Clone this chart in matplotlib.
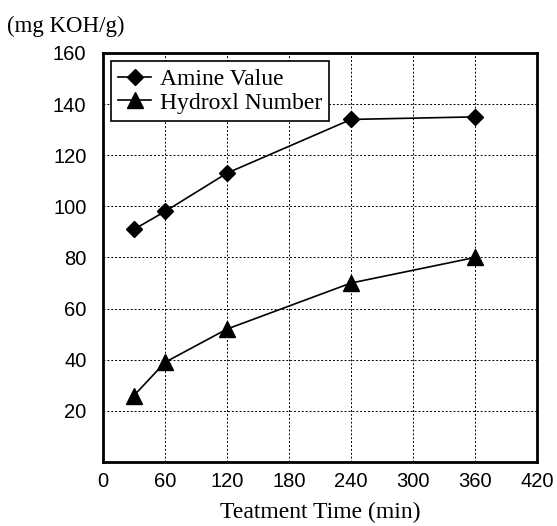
import matplotlib
matplotlib.use("Agg")
import matplotlib.pyplot as plt

time_min = [30, 60, 120, 240, 360]
amine_value = [91, 98, 113, 134, 135]
hydroxyl_number = [26, 39, 52, 70, 80]
x_ticks = [0, 60, 120, 180, 240, 300, 360, 420]
y_ticks = [20, 40, 60, 80, 100, 120, 140, 160]

fig = plt.figure(figsize=(5.57, 5.26), dpi=100)
ax = fig.add_axes([0.185, 0.1217, 0.779, 0.7776])

ax.plot(time_min, amine_value, color="black", lw=1.2, marker="D", markersize=8, label="Amine Value")
ax.plot(time_min, hydroxyl_number, color="black", lw=1.2, marker="^", markersize=11, label="Hydroxl Number")

ax.set_xlim(0, 420)
ax.set_ylim(0, 160)
ax.set_xticks(x_ticks)
ax.set_yticks(y_ticks)
ax.tick_params(axis="x", length=0, pad=7, labelsize=14.5)
ax.tick_params(axis="y", length=0, pad=12, labelsize=14.5)
for lab in ax.get_xticklabels() + ax.get_yticklabels():
    lab.set_family("Liberation Sans")
ax.grid(True, color="black", linestyle=(0, (2, 2)), linewidth=0.7)
for s in ax.spines.values():
    s.set_linewidth(2)

ax.set_xlabel("Teatment Time (min)", family="Liberation Serif", fontsize=17, labelpad=8)
fig.text(0.012, 0.95, "(mg KOH/g)", family="Liberation Serif", fontsize=16.5, va="center")

leg = ax.legend(loc="upper left", bbox_to_anchor=(0.0, 1.0), frameon=True, fancybox=False,
                edgecolor="black", framealpha=1, prop={"family": "Liberation Serif", "size": 17},
                handlelength=1.4, borderpad=0.3, labelspacing=0.1, handletextpad=0.35,
                borderaxespad=0.35)
leg.get_frame().set_linewidth(1.2)

fig.savefig("out.png", dpi=100)
